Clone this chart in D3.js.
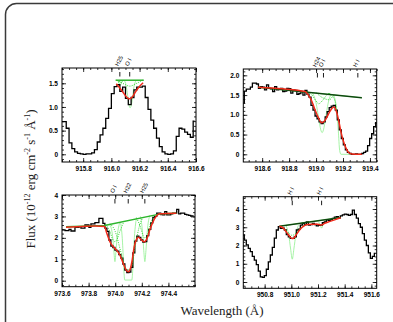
<!DOCTYPE html>
<html><head><meta charset="utf-8">
<script src="https://cdn.jsdelivr.net/npm/d3@7"></script>
<style>
body{margin:0;background:#fff;}
svg{display:block;}
.tk text{font-family:"Liberation Sans",Arial,sans-serif;font-weight:bold;font-size:6.5px;fill:#000;}
.tk line{stroke:#000;stroke-width:0.8;}
.tk path{display:none;}
</style></head><body>
<svg id="c" width="393" height="322"></svg>
<script>
// ---------- Panel 1 (top-left) ----------
const p1Wave0 = 915.65, p1Step = 0.02;
const p1Flux = [0.69,0.69,0.55,0.24,0.12,0.05,0.02,0.01,0.0,0.01,0.01,0.03,0.10,0.26,0.41,0.55,0.76,0.97,1.28,1.43,1.47,1.33,1.42,1.18,1.05,1.20,1.36,1.42,1.42,1.44,1.20,0.95,0.72,0.55,0.34,0.16,0.05,0.01,0.0,0.01,0.07,0.38,0.55,0.53,0.47,0.42,0.36,0.70];
const p1Cont = [[916.03,1.565],[916.23,1.565]];
const p1Model = [[916.035,1.49],[916.06,1.40],[916.085,1.30],[916.105,1.22],[916.12,1.18],[916.13,1.175],[916.145,1.20],[916.165,1.29],[916.19,1.40],[916.225,1.51]];
const p1Comp = [
  [[916.09,1.565],[916.105,1.45],[916.115,1.25],[916.125,1.05],[916.132,0.98],[916.14,1.02],[916.15,1.2],[916.16,1.42],[916.175,1.56]],
  [[916.045,1.565],[916.055,1.50],[916.062,1.45],[916.07,1.50],[916.08,1.565]]
];
const p1Conv = [
  [[916.04,1.565],[916.08,1.50],[916.13,1.44],[916.18,1.50],[916.22,1.565]],
  [[916.035,1.565],[916.06,1.52],[916.085,1.565]]
];
const p1Lines = [916.06, 916.13];
const p1LineLabels = ["H25","O I"];
const p1XTicks = [915.8,916.0,916.2,916.4,916.6];
const p1YTicks = [0,0.5,1.0,1.5];

// ---------- Panel 2 (top-right) ----------
const p2Wave0 = 918.46, p2Step = 0.015;
const p2Flux = [1.30,1.60,1.65,1.65,1.70,1.80,1.80,1.78,1.67,1.71,1.70,1.63,1.76,1.67,1.66,1.59,1.71,1.63,1.66,1.67,1.59,1.60,1.67,1.66,1.55,1.63,1.62,1.52,1.54,1.59,1.50,1.62,1.52,1.45,1.24,1.12,0.97,0.90,0.82,0.78,0.82,0.95,1.08,1.18,1.22,1.24,1.12,0.87,0.62,0.40,0.24,0.11,0.05,0.02,0.0,0.0,0.01,0.0,0.0,0.02,0.05,0.08,0.22,0.40,0.52,0.70,0.80];
const p2Cont = [[918.57,1.70],[919.34,1.43]];
const p2Model = [[918.57,1.70],[918.75,1.66],[918.918,1.59],[918.943,1.50],[918.968,1.35],[918.993,1.12],[919.018,0.92],[919.042,0.80],[919.067,0.86],[919.092,1.02],[919.117,1.16],[919.134,1.20],[919.154,1.05],[919.171,0.80],[919.186,0.55],[919.203,0.33],[919.223,0.15],[919.24,0.05],[919.265,0.01],[919.34,0.0]];
const p2Comp = [
  [[918.97,1.57],[919.0,1.3],[919.02,0.9],[919.035,0.62],[919.045,0.55],[919.055,0.62],[919.07,0.9],[919.09,1.3],[919.11,1.52]],
  [[919.13,1.50],[919.15,1.2],[919.165,0.6],[919.175,0.1],[919.185,0.0],[919.33,0.0]]
];
const p2Conv = [
  [[918.93,1.59],[918.97,1.50],[919.0,1.35],[919.02,1.28],[919.045,1.35],[919.08,1.50],[919.11,1.55]],
  [[919.0,1.56],[919.04,1.45],[919.07,1.40],[919.1,1.38],[919.12,1.45],[919.14,1.52]],
  [[919.09,1.54],[919.12,1.48],[919.14,1.35],[919.155,1.05]]
];
const p2Lines = [919.01, 919.055, 919.31];
const p2LineLabels = ["H24","O I","H I"];
const p2XTicks = [918.6,918.8,919.0,919.2,919.4];
const p2YTicks = [0,0.5,1.0,1.5,2.0];

// ---------- Panel 3 (bottom-left) ----------
const p3Wave0 = 973.6, p3Step = 0.015;
const p3Flux = [2.37,2.37,2.34,2.34,2.40,2.32,2.32,2.49,2.49,2.52,2.45,2.45,2.60,2.60,2.49,2.65,2.65,2.71,2.71,2.91,2.91,2.68,2.45,2.30,1.90,1.62,1.55,1.43,1.38,1.22,1.05,0.78,0.50,0.38,0.40,0.62,1.30,1.85,2.08,2.02,1.90,1.80,1.82,2.10,2.40,2.70,2.95,3.00,3.15,3.15,3.08,3.07,3.22,3.07,3.07,3.12,3.15,3.15,3.33,3.12,3.15,3.15,3.10,3.07,3.05,3.02,3.02];
const p3Cont = [[973.63,2.52],[973.92,2.58],[974.35,3.13],[974.46,3.15]];
const p3Model = [[973.63,2.50],[973.75,2.53],[973.85,2.55],[973.92,2.53],[973.935,2.25],[973.96,1.82],[973.985,1.59],[974.01,1.43],[974.035,1.20],[974.06,0.81],[974.085,0.47],[974.098,0.42],[974.115,0.58],[974.128,0.97],[974.143,1.59],[974.16,1.93],[974.173,2.03],[974.198,1.90],[974.218,1.82],[974.243,2.03],[974.26,2.37],[974.285,2.76],[974.31,3.02],[974.335,3.12],[974.46,3.15]];
const p3Comp = [
  [[973.96,2.62],[973.98,2.1],[973.99,1.4],[973.998,0.89],[974.006,1.4],[974.016,2.1],[974.035,2.73]],
  [[974.04,2.74],[974.055,1.8],[974.065,0.5],[974.072,0.03],[974.125,0.03],[974.132,0.5],[974.142,1.8],[974.16,2.96]],
  [[974.19,3.0],[974.205,2.3],[974.215,1.4],[974.223,0.89],[974.231,1.4],[974.241,2.3],[974.26,3.05]]
];
const p3Conv = [
  [[973.93,2.62],[973.96,2.3],[973.98,1.95],[973.998,1.82],[974.015,1.95],[974.035,2.3],[974.065,2.75]],
  [[973.96,2.66],[974.0,2.3],[974.04,1.4],[974.07,0.7],[974.098,0.5],[974.125,0.7],[974.15,1.6],[974.18,2.5],[974.21,2.98]],
  [[974.16,2.93],[974.19,2.5],[974.21,2.1],[974.223,1.98],[974.24,2.1],[974.26,2.55],[974.29,3.05]]
];
const p3Lines = [973.998, 974.098, 974.223];
const p3LineLabels = ["O I","H22","H25"];
const p3XTicks = [973.6,973.8,974.0,974.2,974.4];
const p3YTicks = [0,1,2,3,4];

// ---------- Panel 4 (bottom-right) ----------
const p4Wave0 = 950.64, p4Step = 0.015;
const p4Flux = [2.58,2.30,2.03,1.84,1.66,1.40,1.20,0.95,0.60,0.28,0.25,0.35,0.70,1.10,1.48,1.90,2.40,2.85,3.03,2.94,2.95,2.85,2.60,2.48,2.39,2.39,2.48,2.85,2.90,3.12,3.21,3.15,3.30,3.12,3.14,3.21,3.15,3.07,3.10,3.12,3.25,3.30,3.40,3.38,3.42,3.49,3.55,3.58,3.52,3.62,3.68,3.72,3.70,3.65,3.70,3.94,3.70,3.50,3.20,3.00,2.65,2.30,2.00,1.60,1.30,1.40,1.57];
const p4Cont = [[950.91,3.05],[951.37,3.53]];
const p4Model = [[950.91,3.05],[950.94,2.95],[950.965,2.72],[950.99,2.48],[951.005,2.38],[951.02,2.42],[951.04,2.62],[951.065,2.88],[951.09,3.05],[951.12,3.15],[951.16,3.17],[951.2,3.16],[951.225,3.12],[951.25,3.22],[951.29,3.32],[951.33,3.42],[951.37,3.52]];
const p4Comp = [
  [[950.96,3.1],[950.98,2.6],[950.995,1.8],[951.007,1.25],[951.019,1.8],[951.034,2.6],[951.055,3.14]],
  [[951.205,3.3],[951.218,3.1],[951.227,2.95],[951.236,3.1],[951.25,3.32]]
];
const p4Conv = [
  [[950.92,3.06],[950.96,2.85],[950.99,2.62],[951.007,2.55],[951.025,2.62],[951.06,2.9],[951.1,3.14]]
];
const p4Lines = [951.007, 951.227];
const p4LineLabels = ["H I","H I"];
const p4XTicks = [950.8,951.0,951.2,951.4,951.6];
const p4YTicks = [0,1,2,3,4];

// ---------- layout ----------
const panels = [
  {box:[62,68,196,162], xd:[915.65,916.6], yd:[-0.163,1.823], xMinor:0.05, yMinor:0.1,
   w0:p1Wave0, step:p1Step, flux:p1Flux, cont:p1Cont, model:p1Model, comp:p1Comp, conv:p1Conv,
   lines:p1Lines, labels:p1LineLabels, xt:p1XTicks, yt:p1YTicks, yfmt:d=>d===0?"0":d3.format(".1f")(d), darkCont:false},
  {box:[243.3,69,376.7,162], xd:[918.46,919.45], yd:[-0.195,2.16], xMinor:0.05, yMinor:0.1,
   w0:p2Wave0, step:p2Step, flux:p2Flux, cont:p2Cont, model:p2Model, comp:p2Comp, conv:p2Conv,
   lines:p2Lines, labels:p2LineLabels, xt:p2XTicks, yt:p2YTicks, yfmt:d=>d===0?"0":d3.format(".1f")(d), darkCont:true},
  {box:[62,195,195,286.7], xd:[973.6,974.6], yd:[-0.28,4.0], xMinor:0.05, yMinor:0.2,
   w0:p3Wave0, step:p3Step, flux:p3Flux, cont:p3Cont, model:p3Model, comp:p3Comp, conv:p3Conv,
   lines:p3Lines, labels:p3LineLabels, xt:p3XTicks, yt:p3YTicks, yfmt:d3.format("d"), darkCont:false},
  {box:[243.3,196.7,376.7,288.3], xd:[950.64,951.64], yd:[-0.345,4.674], xMinor:0.05, yMinor:0.2,
   w0:p4Wave0, step:p4Step, flux:p4Flux, cont:p4Cont, model:p4Model, comp:p4Comp, conv:p4Conv,
   lines:p4Lines, labels:p4LineLabels, xt:p4XTicks, yt:p4YTicks, yfmt:d3.format("d"), darkCont:true}
];

const svg = d3.select("#c");
svg.append("rect").attr("x",5.5).attr("y",3.5).attr("width",420).attr("height",340).attr("rx",11)
   .attr("fill","none").attr("stroke","#3a3a3a").attr("stroke-width",1.5);

panels.forEach((p,i)=>{
  const [x0,y0,x1,y1] = p.box;
  const W = x1-x0, H = y1-y0;
  const x = d3.scaleLinear().domain(p.xd).range([0,W]);
  const y = d3.scaleLinear().domain(p.yd).range([H,0]);
  const g = svg.append("g").attr("transform",`translate(${x0},${y0})`);
  const cid = "clip"+i;
  g.append("clipPath").attr("id",cid).append("rect").attr("width",W).attr("height",H);
  const plot = g.append("g").attr("clip-path",`url(#${cid})`);

  const line = d3.line().x(d=>x(d[0])).y(d=>y(d[1]));
  const spec = p.flux.map((f,k)=>[p.w0 + k*p.step, f]);

  // light green intrinsic components
  p.comp.forEach(c=>plot.append("path").datum(c).attr("d",line.curve(d3.curveMonotoneX))
    .attr("fill","none").attr("stroke","#8ff08f").attr("stroke-width",0.8));
  // observed spectrum (histogram)
  plot.append("path").datum(spec).attr("d",d3.line().x(d=>x(d[0])).y(d=>y(d[1])).curve(d3.curveStep))
    .attr("fill","none").attr("stroke","#000").attr("stroke-width",1.3);
  // dotted convolved components
  p.conv.forEach(c=>plot.append("path").datum(c).attr("d",line.curve(d3.curveMonotoneX))
    .attr("fill","none").attr("stroke","#1fd01f").attr("stroke-width",0.9).attr("stroke-dasharray","1,1.3"));
  // continuum
  plot.append("path").datum(p.cont).attr("d",line.curve(d3.curveLinear))
    .attr("fill","none").attr("stroke",p.darkCont?"#1b7a1b":"#2cb52c").attr("stroke-width",1.5);
  if(p.darkCont) plot.append("path").datum(p.cont).attr("d",line.curve(d3.curveLinear))
    .attr("fill","none").attr("stroke","#000").attr("stroke-width",0.5);
  // model
  plot.append("path").datum(p.model).attr("d",line.curve(d3.curveMonotoneX))
    .attr("fill","none").attr("stroke","#f02a1a").attr("stroke-width",1.5);

  // border
  g.append("rect").attr("width",W).attr("height",H).attr("fill","none").attr("stroke","#000").attr("stroke-width",1);

  // axes (inward ticks on all sides)
  const xMin = d3.range(Math.ceil(p.xd[0]/p.xMinor)*p.xMinor, p.xd[1]+1e-9, p.xMinor);
  const yMin = d3.range(Math.ceil(p.yd[0]/p.yMinor)*p.yMinor, p.yd[1]+1e-9, p.yMinor);
  const xtIn = p.xt.filter(v=>v>=p.xd[0]-1e-6 && v<=p.xd[1]+1e-6);
  g.append("g").attr("class","tk").attr("transform",`translate(0,${H})`)
    .call(d3.axisBottom(x).tickValues(xtIn).tickSize(-4).tickPadding(4.5).tickFormat(d3.format(".1f")));
  g.append("g").attr("class","tk").attr("transform",`translate(0,${H})`)
    .call(d3.axisBottom(x).tickValues(xMin).tickSize(-2).tickFormat(""));
  g.append("g").attr("class","tk").call(d3.axisTop(x).tickValues(xtIn).tickSize(-4).tickFormat(""));
  g.append("g").attr("class","tk").call(d3.axisTop(x).tickValues(xMin).tickSize(-2).tickFormat(""));
  g.append("g").attr("class","tk")
    .call(d3.axisLeft(y).tickValues(p.yt).tickSize(-4).tickPadding(4).tickFormat(p.yfmt));
  g.append("g").attr("class","tk").call(d3.axisLeft(y).tickValues(yMin).tickSize(-2).tickFormat(""));
  g.append("g").attr("class","tk").attr("transform",`translate(${W},0)`)
    .call(d3.axisRight(y).tickValues(p.yt).tickSize(-4).tickFormat(""));
  g.append("g").attr("class","tk").attr("transform",`translate(${W},0)`)
    .call(d3.axisRight(y).tickValues(yMin).tickSize(-2).tickFormat(""));

  // line identification marks
  p.lines.forEach((lw,k)=>{
    g.append("line").attr("x1",x(lw)).attr("x2",x(lw)).attr("y1",4).attr("y2",8.5)
      .attr("stroke","#000").attr("stroke-width",0.9);
    g.append("text").attr("transform",`translate(${x(lw)-1.5},${-1.5}) rotate(-63)`)
      .attr("font-family","Liberation Sans, Arial, sans-serif").attr("font-size",5.8).attr("fill","#000")
      .text(p.labels[k]);
  });
});

// axis titles
const yt = svg.append("text").attr("transform","translate(35,179) rotate(-90)")
  .attr("text-anchor","middle").attr("font-family","Liberation Serif, Times New Roman, serif")
  .attr("font-size",13).attr("fill","#222");
const parts = [["Flux (10",0],["-12",1],[" erg cm",0],["-2",1],[" s",0],["-1",1],[" Å",0],["-1",1],[")",0]];
let sup = false;
parts.forEach(([t,s])=>{
  const ts = yt.append("tspan").text(t);
  if(s){ ts.attr("font-size",8).attr("dy",-5); sup=true; }
  else if(sup){ ts.attr("dy",5); sup=false; }
});
svg.append("text").attr("x",222).attr("y",315).attr("text-anchor","middle")
  .attr("font-family","Liberation Serif, Times New Roman, serif").attr("font-size",13).attr("fill","#222")
  .text("Wavelength (Å)");
</script>
</body></html>
